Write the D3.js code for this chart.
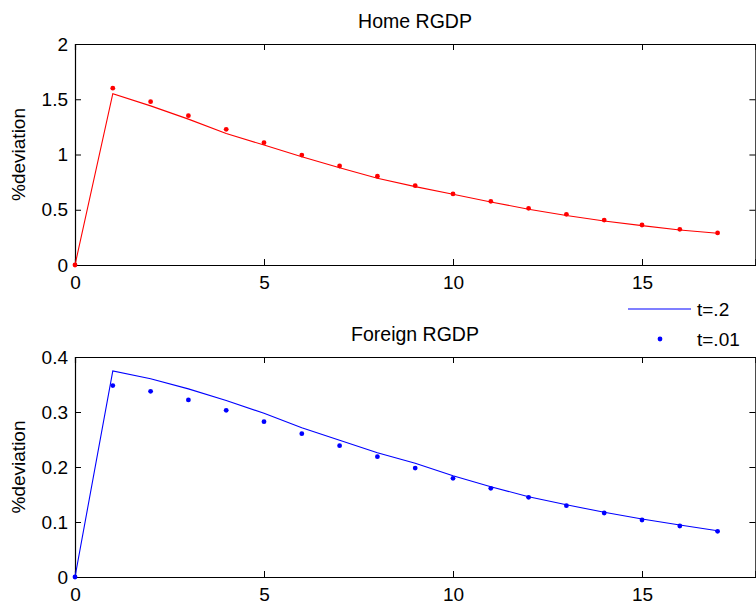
<!DOCTYPE html>
<html>
<head>
<meta charset="utf-8">
<script src="https://cdn.jsdelivr.net/npm/d3@7"></script>
<style>
  body { margin: 0; background: #fff; }
  svg text { font-family: "Liberation Sans", Arial, sans-serif; fill: #000; }
</style>
</head>
<body>
<div id="chart"></div>
<script>
// periods after the shock
var periods = [0, 1, 2, 3, 4, 5, 6, 7, 8, 9, 10, 11, 12, 13, 14, 15, 16, 17];

// Home RGDP, t=.2 (line) and t=.01 (dots)
var homeLine = [0, 1.55, 1.44, 1.32, 1.19, 1.086, 0.98, 0.88, 0.785, 0.709, 0.64, 0.57, 0.505, 0.448, 0.398, 0.356, 0.317, 0.287];
var homeDots = [0, 1.60, 1.478, 1.351, 1.228, 1.107, 0.995, 0.896, 0.803, 0.718, 0.643, 0.576, 0.513, 0.459, 0.407, 0.362, 0.323, 0.290];

// Foreign RGDP
var foreignLine = [0, 0.3745, 0.3606, 0.342, 0.321, 0.2976, 0.2715, 0.2485, 0.226, 0.2067, 0.184, 0.164, 0.146, 0.1315, 0.1176, 0.1055, 0.0945, 0.084];
var foreignDots = [0, 0.348, 0.3376, 0.322, 0.303, 0.2824, 0.2606, 0.2388, 0.2188, 0.198, 0.1794, 0.1612, 0.1448, 0.1297, 0.1164, 0.1036, 0.0927, 0.083];

var xTicks = [0, 5, 10, 15];
var homeTicks = [0, 0.5, 1, 1.5, 2];
var foreignTicks = [0, 0.1, 0.2, 0.3, 0.4];
var legendLabels = ["t=.2", "t=.01"];

var width = 756;
var height = 604;

var svg = d3.select('#chart')
    .append('svg')
    .attr('width', width)
    .attr('height', height);

var scaleX = d3.scaleLinear()
    .domain([0, 18])
    .range([75, 755.4]);

function drawPanel(opt) {
    var scaleY = d3.scaleLinear()
        .domain([0, opt.ymax])
        .range([opt.bottom, opt.top]);

    var g = svg.append('g');

    // box with inward ticks on all four sides (matlab style)
    g.append('g')
        .attr('transform', 'translate(0,' + opt.bottom + ')')
        .call(d3.axisBottom(scaleX).tickValues(xTicks).tickSize(-6).tickPadding(11).tickFormat(d3.format('~g')));
    g.append('g')
        .attr('transform', 'translate(0,' + opt.top + ')')
        .call(d3.axisTop(scaleX).tickValues(xTicks).tickSize(-6).tickFormat(''));
    g.append('g')
        .attr('transform', 'translate(' + scaleX(0) + ',0)')
        .call(d3.axisLeft(scaleY).tickValues(opt.ticks).tickSize(-6).tickPadding(7).tickFormat(d3.format('~g')));
    g.append('g')
        .attr('transform', 'translate(' + scaleX(18) + ',0)')
        .call(d3.axisRight(scaleY).tickValues(opt.ticks).tickSize(-6).tickFormat(''));

    g.selectAll('.domain').attr('stroke', '#000').attr('stroke-width', 1.2);
    g.selectAll('.tick line').attr('stroke', '#000').attr('stroke-width', 1);
    g.selectAll('.tick text').style('font-size', '19px');

    var line = d3.line()
        .x((d, i) => scaleX(periods[i]))
        .y((d) => scaleY(d));

    g.append('path')
        .datum(opt.line)
        .attr('d', line)
        .attr('fill', 'none')
        .attr('stroke', opt.color)
        .attr('stroke-width', 1.1);

    g.selectAll('circle.dot')
        .data(opt.dots)
        .enter()
        .append('circle')
        .attr('class', 'dot')
        .attr('cx', (d, i) => scaleX(periods[i]))
        .attr('cy', (d) => scaleY(d))
        .attr('r', 2.4)
        .attr('fill', opt.color);

    // titulo
    g.append('text')
        .attr('x', 415)
        .attr('y', opt.top - 16)
        .attr('text-anchor', 'middle')
        .style('font-size', '19.5px')
        .text(opt.title);

    g.append('text')
        .attr('transform', 'translate(25,' + ((opt.top + opt.bottom) / 2) + ') rotate(-90)')
        .attr('text-anchor', 'middle')
        .style('font-size', '19px')
        .text('%deviation');
}

drawPanel({ top: 44, bottom: 265, ymax: 2, ticks: homeTicks, line: homeLine, dots: homeDots, color: '#ff0000', title: 'Home RGDP' });
drawPanel({ top: 357, bottom: 577, ymax: 0.4, ticks: foreignTicks, line: foreignLine, dots: foreignDots, color: '#0000ff', title: 'Foreign RGDP' });

// leyenda (pertenece al panel de abajo)
var legend = svg.append('g');
legend.append('rect')
    .attr('x', 615)
    .attr('y', 294)
    .attr('width', 141)
    .attr('height', 63)
    .attr('fill', '#fff');
legend.append('line')
    .attr('x1', 628).attr('x2', 691)
    .attr('y1', 309).attr('y2', 309)
    .attr('stroke', '#0000ff')
    .attr('stroke-width', 1.1);
legend.append('circle')
    .attr('cx', 660).attr('cy', 339)
    .attr('r', 2.4)
    .attr('fill', '#0000ff');
legend.selectAll('text')
    .data(legendLabels)
    .enter()
    .append('text')
    .attr('x', 697)
    .attr('y', (d, i) => 316 + i * 30)
    .style('font-size', '19px')
    .text((d) => d);
</script>
</body>
</html>
